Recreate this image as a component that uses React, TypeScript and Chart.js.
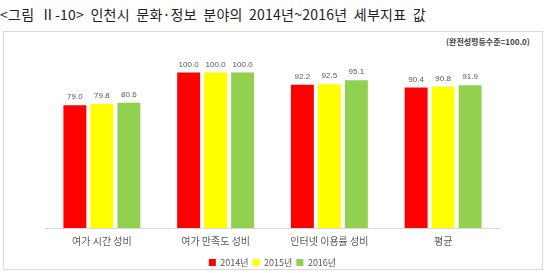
import React, { useEffect, useRef } from "react";
import { Chart, registerables } from "chart.js";

Chart.register(...registerables);

const categories = ["여가 시간 성비", "여가 만족도 성비", "인터넷 이용률 성비", "평균"];
const seriesNames = ["2014년", "2015년", "2016년"];
const values2014 = [79.0, 100.0, 92.2, 90.4];
const values2015 = [79.8, 100.0, 92.5, 90.8];
const values2016 = [80.6, 100.0, 95.1, 91.9];
const seriesColors = ["#FF0000", "#FFFF00", "#92D050"];

const valueLabelPlugin = {
  id: "valueLabels",
  afterDatasetsDraw(chart: any) {
    const ctx = chart.ctx;
    ctx.save();
    ctx.font = "8px 'Liberation Sans', Arial, sans-serif";
    ctx.fillStyle = "#595959";
    ctx.textAlign = "center";
    ctx.textBaseline = "middle";
    chart.data.datasets.forEach((ds: any, i: number) => {
      const meta = chart.getDatasetMeta(i);
      meta.data.forEach((bar: any, j: number) => {
        ctx.fillText(Number(ds.data[j]).toFixed(1), bar.x, bar.y - 8);
      });
    });
    ctx.restore();
  },
};

export default function App() {
  const ref = useRef<HTMLCanvasElement>(null);
  useEffect(() => {
    if (!ref.current) return;
    const data = [values2014, values2015, values2016];
    const chart = new Chart(ref.current, {
      type: "bar",
      data: {
        labels: categories,
        datasets: seriesNames.map((name, i) => ({
          label: name,
          data: data[i],
          backgroundColor: seriesColors[i],
          borderWidth: 0,
          categoryPercentage: 0.712,
          barPercentage: 0.85,
        })),
      },
      options: {
        animation: false,
        responsive: false,
        maintainAspectRatio: false,
        layout: { padding: { left: 41, right: 42, top: 25, bottom: 0 } },
        plugins: {
          legend: {
            position: "bottom",
            labels: {
              boxWidth: 7,
              boxHeight: 7,
              padding: 4,
              color: "#595959",
              font: { size: 9, family: "'Noto Sans CJK KR', sans-serif" },
            },
          },
          tooltip: { enabled: false },
        },
        scales: {
          x: {
            grid: { display: false, drawTicks: false },
            border: { color: "#D9D9D9" },
            ticks: {
              color: "#595959",
              font: { size: 10, family: "'Noto Sans CJK KR', sans-serif" },
              padding: 7,
            },
          },
          y: {
            display: false,
            min: 0,
            max: 110,
          },
        },
      },
      plugins: [valueLabelPlugin],
    });
    return () => chart.destroy();
  }, []);

  return (
    <div
      style={{
        position: "fixed",
        left: 0,
        top: 0,
        width: 546,
        height: 273,
        overflow: "hidden",
        background: "#fff",
        fontFamily: "'Noto Sans CJK KR', sans-serif",
      }}
    >
      <div
        style={{
          position: "absolute",
          left: 0,
          top: 4,
          fontSize: 14,
          color: "#222",
          whiteSpace: "nowrap",
          lineHeight: "20px",
          wordSpacing: 3,
          letterSpacing: 0.25,
        }}
      >
        &lt;그림 Ⅱ-10&gt; 인천시 문화·정보 분야의 2014년~2016년 세부지표 값
      </div>
      <div
        style={{
          position: "absolute",
          left: 3,
          top: 31,
          width: 538,
          height: 237,
          border: "1px solid #D9D9D9",
        }}
      />
      <div
        style={{
          position: "absolute",
          left: 446,
          top: 36,
          fontSize: 8,
          fontWeight: 700,
          color: "#404040",
          whiteSpace: "nowrap",
          lineHeight: "12px",
        }}
      >
        (완전성평등수준=100.0)
      </div>
      <canvas
        ref={ref}
        width={538}
        height={245}
        style={{ position: "absolute", left: 4, top: 32, width: 538, height: 245 }}
      />
    </div>
  );
}
